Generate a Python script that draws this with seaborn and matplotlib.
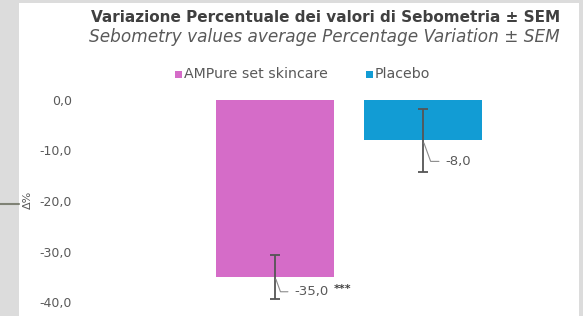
import matplotlib
matplotlib.use("Agg")
import matplotlib.pyplot as plt
import seaborn as sns
import pandas as pd
from matplotlib.patches import Rectangle

# ---- data ----
groups = ["AMPure set skincare", "Placebo"]
values = [-35.0, -8.0]
sems = [4.4, 6.2]
value_labels = ["-35,0", "-8,0"]
significance = ["***", ""]
colors = ["#D56CC8", "#129CD4"]
yticks = [0, -10, -20, -30, -40]
ytick_labels = ["0,0", "-10,0", "-20,0", "-30,0", "-40,0"]
title = "Variazione Percentuale dei valori di Sebometria \u00b1 SEM"
subtitle = "Sebometry values average Percentage Variation \u00b1 SEM"
ylabel = "\u0394%"

sns.set_theme(style="white")
plt.rcParams["font.family"] = ["DejaVu Sans"]

W, H = 583, 316
fig = plt.figure(figsize=(W / 100, H / 100), dpi=100)
fig.patch.set_facecolor("#dcdcdc")

# white slide panel
panel = Rectangle((19 / W, 0), (579 - 19) / W, (H - 3) / H,
                  transform=fig.transFigure, facecolor="white",
                  edgecolor="none", zorder=-5)
fig.patches.append(panel)
# small decorative line on the left
fig.add_artist(plt.Line2D([0, 19 / W], [1 - 204 / H, 1 - 204 / H],
                          transform=fig.transFigure, color="#7f8275", lw=1.5))

ax_l, ax_r = 80, 570
ax_top, ax_bot = 100, 302
ax = fig.add_axes([ax_l / W, 1 - ax_bot / H, (ax_r - ax_l) / W, (ax_bot - ax_top) / H])
ax.set_facecolor("none")
ax.set_zorder(2)

df = pd.DataFrame({"group": groups, "value": values, "sem": sems})
sns.barplot(data=df, x="group", y="value", hue="group", palette=colors,
            width=0.8, legend=False, ax=ax, errorbar=None, edgecolor="none",
            saturation=1)
ax.errorbar(x=range(len(groups)), y=df["value"], yerr=df["sem"], fmt="none",
            ecolor="#555555", elinewidth=1.3, capsize=3.5, capthick=1.3, zorder=5)

unit = 148.0
ax.set_xlim(-(275 - ax_l) / unit, (ax_r - 275) / unit)
ax.set_ylim(-40, 0)
ax.set_yticks(yticks)
ax.set_yticklabels(ytick_labels, color="#595959", fontsize=9)
ax.tick_params(axis="y", length=0, pad=6)
ax.set_xticks([])
ax.set_xlabel("")
ax.set_ylabel("")
for s in ax.spines.values():
    s.set_visible(False)

# value labels with leader lines
offsets = [(19, -15), (22, -21)]
for i, (v, lab, sig, off) in enumerate(zip(values, value_labels, significance, offsets)):
    ax.annotate(lab, xy=(i, v), xytext=off, textcoords="offset pixels",
                fontsize=9.5, color="#595959", ha="left", va="center",
                arrowprops=dict(arrowstyle="-", color="#8c8c8c", lw=0.8,
                                shrinkA=2, shrinkB=2,
                                connectionstyle="angle,angleA=0,angleB=110,rad=0"),
                annotation_clip=False, zorder=6)
    if sig:
        ax.annotate(sig, xy=(i, v), xytext=(off[0] + 40, off[1] + 3),
                    textcoords="offset pixels", fontsize=8, color="#404040",
                    ha="left", va="center", fontweight="bold",
                    annotation_clip=False)

# titles
fig.text(560 / W, 1 - 17 / H, title, ha="right", va="center", fontsize=11,
         fontweight="bold", color="#404040")
fig.text(560 / W, 1 - 37 / H, subtitle, ha="right", va="center", fontsize=12.2,
         style="italic", color="#595959")

# legend
leg_y = 1 - 74 / H
for xs, xt, c, g in [(175, 184, colors[0], groups[0]), (366, 375, colors[1], groups[1])]:
    fig.patches.append(Rectangle((xs / W, leg_y - 3.5 / H), 7 / W, 7 / H,
                                 transform=fig.transFigure, facecolor=c,
                                 edgecolor="none", zorder=3))
    fig.text(xt / W, leg_y, g, ha="left", va="center", fontsize=10.2, color="#595959")

# y label
fig.text(28 / W, 1 - 200 / H, ylabel, rotation=90, ha="center", va="center",
         fontsize=8, color="#595959")

fig.savefig("out.png", dpi=100, facecolor=fig.get_facecolor())
